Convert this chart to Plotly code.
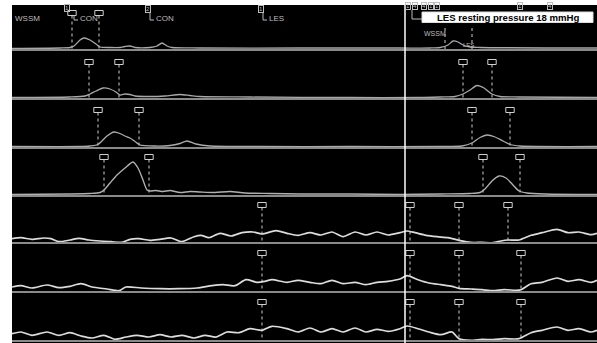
import plotly.graph_objects as go

W, H = 597, 343

# ---------------- channel data: time (s), pressure above channel baseline (mmHg) ----------------
# Channel 1 (upper oesophagus)
t_ch1 = [0, 4.8, 5.8, 6.2, 6.8, 7.2, 7.8, 8.4, 8.8, 9.8, 10.8, 11.3, 11.8, 12.3, 13.8, 14.5, 15.0,
         15.5, 16.0, 18.8, 28.8, 38.8, 41.8, 42.8, 43.6, 44.1, 44.6, 45.1, 45.8, 46.8, 58.5]
p_ch1 = [1.5, 2, 2.5, 4, 10, 12, 10, 6, 3, 2.5, 2.5, 3.5, 4, 2.5, 2.5, 4, 7,
         4, 2.5, 2, 2, 2, 2, 2.5, 5, 9, 8, 5, 3, 2.5, 2]

# Channel 2
t_ch2 = [0, 5.8, 7.3, 7.8, 8.4, 9.1, 9.8, 10.4, 10.8, 11.3, 11.8, 12.3, 13.8, 15.3, 16.8, 17.8,
         18.8, 23.8, 33.8, 40.8, 42.8, 44.3, 45.1, 45.8, 46.5, 47.2, 48.0, 48.8, 50.8, 58.5]
p_ch2 = [1.5, 2, 3, 5, 8, 11, 10, 7, 4, 5, 4.5, 3, 2.5, 3, 4.5, 3.5,
         2.5, 2, 1.5, 1.5, 2, 2.5, 5, 9, 13.5, 11, 5, 2.5, 2, 1.5]

# Channel 3
t_ch3 = [0, 6.8, 7.8, 8.6, 9.5, 10.2, 10.8, 11.3, 11.8, 12.3, 12.8, 14.3, 15.8, 16.8, 17.5,
         18.4, 19.8, 24.8, 33.8, 42.8, 45.0, 46.0, 46.8, 47.5, 48.3, 49.1, 49.8, 50.8, 58.5]
p_ch3 = [1.5, 1.5, 2, 3.5, 12, 16, 14.5, 12, 10, 6.5, 3, 2, 2.5, 4.5, 7,
         4, 2, 1.5, 1.5, 1.5, 2, 5, 10.5, 13, 11, 7, 3.5, 2, 1.5]

# Channel 4 (distal oesophagus)
t_ch4 = [0, 5.8, 7.8, 8.8, 9.2, 9.8, 10.5, 11.3, 12.1, 12.6, 13.1, 13.5, 13.8, 14.4, 15.1, 15.8,
         16.8, 17.8, 18.8, 20.3, 21.8, 23.3, 25.8, 28.8, 33.8, 38.8, 42.8, 45.8, 46.8, 47.3,
         48.0, 48.7, 49.4, 50.1, 50.7, 51.5, 53.3, 58.5]
p_ch4 = [1.5, 2, 2.5, 3.5, 6, 13, 21, 28, 34, 28, 16, 6, 5, 5.5, 4.5, 5.5,
         3.5, 4.5, 4, 3.5, 4.5, 3, 2.5, 2, 2, 1.5, 2, 2.5, 3.5, 7,
         15, 20, 18, 11, 5, 3, 2, 1.5]

# Channel 5 (LES)
t_ch5 = [0, 0.9, 2.0, 3.2, 3.9, 4.7, 5.8, 6.7, 7.7, 8.8, 9.9, 11.0, 11.8, 12.7, 13.8, 14.8, 15.9,
         17.0, 18.2, 18.9, 19.7, 20.8, 21.9, 23.0, 24.1, 25.0, 26.4, 27.5, 28.6, 29.8, 30.9, 32.0,
         33.1, 34.3, 35.4, 36.5, 37.6, 38.8, 39.5, 40.3, 41.4, 42.5, 43.6, 44.7, 45.9, 47.0, 48.1,
         48.9, 49.6, 50.7, 51.9, 53.0, 54.5, 55.6, 56.7, 57.9, 58.5]
p_ch5 = [4.3, 5.3, 3.7, 5.0, 4.3, 1.3, 3.0, 4.7, 3.0, 2.0, 1.3, 0.6, 3.7, 4.3, 2.7, 3.7, 5.0,
         1.3, 6.3, 7.7, 5.3, 9.7, 7.0, 10.3, 11.0, 9.0, 12.3, 9.7, 7.7, 10.3, 8.0, 11.0,
         6.3, 11.0, 8.0, 11.0, 8.0, 10.3, 12.0, 10.3, 7.7, 6.3, 5.3, 2.7, 0.6, 0.6, 0.3,
         2.0, 3.0, 3.0, 7.7, 10.3, 13.7, 10.3, 11.0, 8.3, 9.7]

# Channel 6 (LES)
t_ch6 = [0, 0.9, 2.0, 3.5, 4.7, 5.8, 6.9, 8.0, 9.5, 10.7, 11.4, 12.9, 14.8, 16.7, 18.5, 20.0,
         21.1, 22.3, 23.4, 24.5, 25.3, 26.0, 27.5, 28.6, 29.8, 30.9, 32.0, 33.1, 34.3, 35.4,
         36.5, 37.6, 38.8, 39.5, 40.6, 41.7, 42.9, 44.0, 44.7, 45.9, 47.0, 48.1, 49.2, 50.4,
         50.9, 51.9, 53.0, 54.5, 55.6, 56.7, 57.9, 58.5]
p_ch6 = [5.0, 6.3, 4.0, 7.0, 4.3, 5.7, 8.3, 5.0, 3.0, 1.3, 5.0, 4.0, 3.3, 3.3, 4.0, 6.3,
         7.3, 6.3, 12.3, 9.7, 10.7, 12.3, 9.7, 11.7, 9.7, 8.3, 11.7, 8.3, 9.7, 7.3,
         9.7, 10.7, 13.0, 16.3, 12.3, 9.0, 7.3, 5.7, 3.7, 3.0, 2.3, 1.3, 2.3, 1.7,
         2.3, 8.3, 9.7, 14.0, 10.7, 12.3, 9.7, 11.7]

# Channel 7 (LES / stomach)
t_ch7 = [0, 0.9, 2.0, 3.5, 4.7, 5.8, 6.9, 8.0, 9.2, 10.3, 11.4, 12.5, 13.7, 14.8, 15.9, 17.0,
         18.2, 19.3, 20.4, 21.5, 22.7, 23.8, 25.0, 26.0, 27.5, 28.6, 29.8, 30.9, 32.0, 33.1,
         34.3, 35.4, 36.5, 37.6, 38.8, 39.5, 40.6, 41.7, 42.9, 44.0, 44.7, 45.9, 47.0, 48.1,
         49.2, 50.7, 51.9, 53.0, 54.5, 55.6, 56.7, 57.9, 58.5]
p_ch7 = [7.3, 9.0, 5.7, 9.0, 5.7, 8.3, 5.0, 3.0, 5.7, 1.7, 4.0, 5.7, 4.0, 6.3, 4.0, 5.7,
         3.0, 5.7, 4.0, 9.0, 8.3, 12.3, 10.7, 14.7, 12.3, 9.0, 13.0, 9.0, 12.3, 9.0,
         13.0, 9.0, 11.7, 9.7, 12.3, 15.0, 12.3, 9.0, 6.3, 9.0, 2.3, 0.7, 1.7, 1.3,
         2.3, 2.3, 8.3, 10.7, 14.0, 10.7, 12.3, 9.0, 10.7]

# event markers (s) per channel, and marker box level (mmHg)
marks = [
    [6.0, 8.7],
    [7.7, 10.7, 45.1, 48.0],
    [8.6, 12.7, 46.0, 49.8],
    [9.2, 13.7, 47.1, 50.8],
    [25.0, 39.8, 44.7, 49.6],
    [25.0, 39.8, 44.7, 50.9],
    [25.0, 39.8, 44.7, 50.9],
]
box_level = [37, 37, 38, 39, 38, 39, 39]
# swallow window markers on channel 1 (no box), and the LES event time
ch1_window = [43.3, 46.0]
les_event = 39.3

times = [t_ch1, t_ch2, t_ch3, t_ch4, t_ch5, t_ch6, t_ch7]
press = [p_ch1, p_ch2, p_ch3, p_ch4, p_ch5, p_ch6, p_ch7]

# panel pixel bounds (top, bottom)
panels = [(5, 50), (50, 99), (99, 148), (148, 196), (196, 243), (243, 292), (292, 341)]
X0 = 12
T_MAX = 58.5


def py(y):
    return 1 - y / H


def pxx(x):
    return x / W


fig = go.Figure()
shapes = []
annotations = []

# black recording area
shapes.append(dict(type="rect", xref="paper", yref="paper", x0=pxx(X0), x1=1, y0=0, y1=py(5),
                   fillcolor="black", line=dict(width=0), layer="below"))

trace_colors = ["#a8a8a8", "#a8a8a8", "#ababab", "#b0b0b0", "#dcdcdc", "#dcdcdc", "#dcdcdc"]
trace_widths = [1.3, 1.3, 1.3, 1.4, 1.7, 1.7, 1.7]

for i, (top, bot) in enumerate(panels):
    sfx = "" if i == 0 else str(i + 1)
    fig.layout["xaxis" + sfx] = dict(domain=[pxx(X0), 1], range=[0, T_MAX], visible=False,
                                     anchor="y" + sfx, fixedrange=True)
    fig.layout["yaxis" + sfx] = dict(domain=[py(bot), py(top)], range=[0, bot - top],
                                     visible=False, anchor="x" + sfx, fixedrange=True)
    xa, ya = "x" + sfx, "y" + sfx

    # channel separator
    shapes.append(dict(type="line", xref="paper", yref="paper", x0=pxx(X0), x1=1,
                       y0=py(bot), y1=py(bot), line=dict(color="#8a8a8a", width=2)))

    # event marker stems (dotted) and boxes
    lvl = box_level[i]
    sx, sy = [], []
    for t in marks[i]:
        sx += [t, t, None]
        sy += [lvl - 2.5, 0.5, None]
        shapes.append(dict(type="rect", xref=xa, yref=ya, x0=t - 0.42, x1=t + 0.42,
                           y0=lvl - 2.5, y1=lvl + 2.5, line=dict(color="#cfcfcf", width=1)))
    if i == 0:
        for t in ch1_window:
            sx += [t, t, None]
            sy += [22, 1, None]
    fig.add_trace(go.Scatter(x=sx, y=sy, xaxis=xa, yaxis=ya, mode="lines",
                             line=dict(color="#cfcfcf", width=1, dash="dot"),
                             hoverinfo="skip", showlegend=False))

    # pressure trace
    fig.add_trace(go.Scatter(x=times[i], y=press[i], xaxis=xa, yaxis=ya, mode="lines",
                             line=dict(color=trace_colors[i], width=trace_widths[i],
                                       shape="spline", smoothing=0.7),
                             hoverinfo="skip", showlegend=False))

# LES event line across all channels
shapes.append(dict(type="line", xref="x", yref="paper", x0=les_event, x1=les_event,
                   y0=0, y1=py(5), line=dict(color="white", width=1.5)))

lab_font = dict(family="Liberation Sans, Arial, sans-serif", size=8, color="#bdbdbd")
small_font = dict(family="Liberation Sans, Arial, sans-serif", size=6, color="#bdbdbd")


def label(text, x, y, font=lab_font, xanchor="left"):
    annotations.append(dict(text=text, x=pxx(x), y=py(y), xref="paper", yref="paper",
                            showarrow=False, xanchor=xanchor, yanchor="middle", font=font))


def numbox(text, x, y):
    annotations.append(dict(text=text, x=pxx(x), y=py(y), xref="paper", yref="paper",
                            showarrow=False, xanchor="center", yanchor="middle",
                            font=small_font, bordercolor="#bdbdbd", borderwidth=1, borderpad=0))


def bracket(x, y0, y1, x1):
    shapes.append(dict(type="path", xref="paper", yref="paper",
                       path=f"M {pxx(x)},{py(y0)} L {pxx(x)},{py(y1)} L {pxx(x1)},{py(y1)}",
                       line=dict(color="#bdbdbd", width=1)))


# event annotations along the top channel
label("WSSM", 13, 18)
numbox("1", 67, 8)
bracket(74, 15, 20, 78)
label("CON", 78, 19)
numbox("2", 148, 9)
bracket(150, 13, 20, 154)
label("CON", 154, 19)
numbox("1", 261, 9)
bracket(263, 13, 20, 267)
label("LES", 267, 19)

for txt, x in [("1", 408), ("4", 415), ("4", 424), ("1", 431), ("1", 437), ("1", 520), ("4", 550)]:
    numbox(txt, x, 6)
bracket(412, 10, 19, 422)

# resting pressure readout
shapes.append(dict(type="rect", xref="paper", yref="paper", x0=pxx(422), x1=pxx(593),
                   y0=py(22.5), y1=py(12), fillcolor="white", line=dict(color="#dddddd", width=1)))
annotations.append(dict(text="<b>LES resting pressure 18 mmHg</b>", x=pxx(507.5), y=py(17.2),
                        xref="paper", yref="paper", showarrow=False, xanchor="center",
                        yanchor="middle",
                        font=dict(family="Liberation Sans, Arial, sans-serif", size=9.6,
                                  color="black")))
label("WSSM", 422, 33, font=dict(family="Liberation Sans, Arial, sans-serif", size=7,
                                  color="#bdbdbd"))
label("LES", 461, 45, font=small_font)

fig.update_layout(width=W, height=H, margin=dict(l=0, r=0, t=0, b=0),
                  paper_bgcolor="white", plot_bgcolor="rgba(0,0,0,0)",
                  shapes=shapes, annotations=annotations, showlegend=False)

fig.write_html("out.html", config={"displayModeBar": False})
